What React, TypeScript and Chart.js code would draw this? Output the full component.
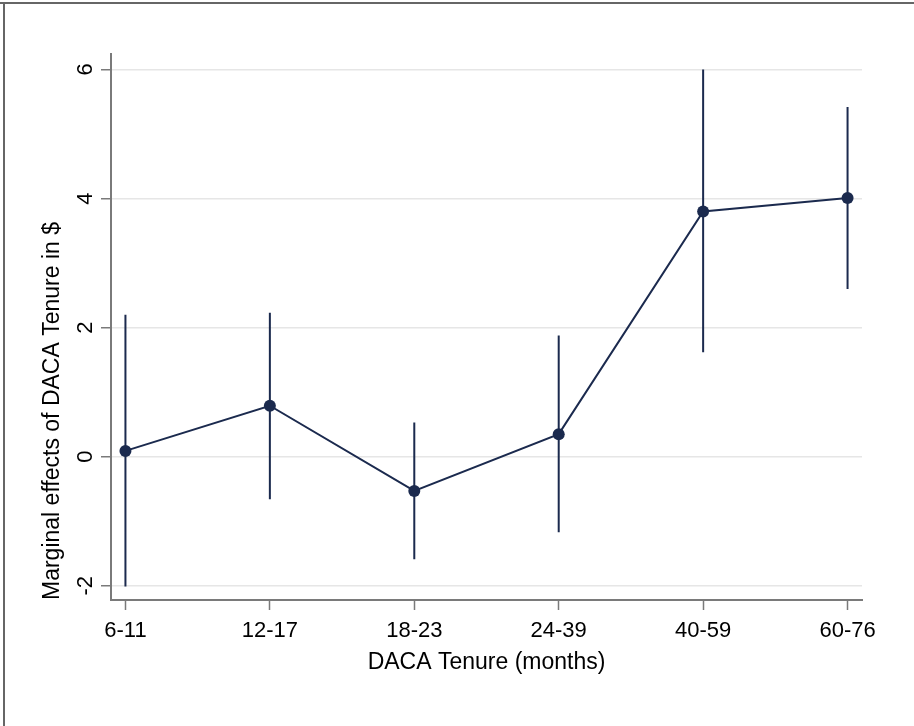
import React, { useEffect, useRef } from 'react';
import { Chart, registerables } from 'chart.js';

Chart.register(...registerables);

const categories = ['6-11', '12-17', '18-23', '24-39', '40-59', '60-76'];
const estimates = [0.09, 0.79, -0.53, 0.35, 3.8, 4.01];
const lowerCI = [-2.01, -0.66, -1.59, -1.17, 1.62, 2.6];
const upperCI = [2.2, 2.23, 0.53, 1.88, 6.0, 5.42];
const yTicks = [-2, 0, 2, 4, 6];
const xTitle = 'DACA Tenure (months)';
const yTitle = 'Marginal effects of DACA Tenure in $';

const NAVY = '#1b2a4e';
const AXIS = '#7a7a7a';
const GRID = '#e6e6e6';
const FONT_FAMILY = 'Arial, "Liberation Sans", sans-serif';

export default function App() {
  const ref = useRef<HTMLCanvasElement>(null);

  useEffect(() => {
    document.body.style.margin = '0';
    const canvas = ref.current;
    if (!canvas) return;

    const pointData = estimates.map((y, i) => ({ x: i, y }));
    const errData: any[] = [];
    categories.forEach((_, i) => {
      errData.push({ x: i, y: lowerCI[i] }, { x: i, y: upperCI[i] }, { x: i, y: null });
    });

    const font = { family: FONT_FAMILY, size: 22, weight: 'normal' as const };
    const titleFont = { family: FONT_FAMILY, size: 23, weight: 'normal' as const };

    const framePlugin = {
      id: 'frame',
      beforeDraw(chart: any) {
        const ctx = chart.ctx;
        ctx.save();
        ctx.fillStyle = '#ffffff';
        ctx.fillRect(0, 0, chart.width, chart.height);
        ctx.restore();
      },
      afterDraw(chart: any) {
        const ctx = chart.ctx;
        ctx.save();
        ctx.fillStyle = '#666666';
        ctx.fillRect(0, 2, chart.width, 2);
        ctx.fillRect(3, 2, 2, chart.height - 2);
        ctx.restore();
      },
    };

    const chart = new Chart(canvas, {
      type: 'scatter',
      data: {
        datasets: [
          {
            data: errData,
            showLine: true,
            spanGaps: false,
            borderColor: NAVY,
            borderWidth: 2,
            pointRadius: 0,
            order: 2,
          },
          {
            data: pointData,
            showLine: true,
            borderColor: NAVY,
            borderWidth: 2,
            pointRadius: 6,
            pointBackgroundColor: NAVY,
            pointBorderColor: NAVY,
            pointBorderWidth: 0,
            order: 1,
          },
        ],
      },
      options: {
        responsive: false,
        animation: false,
        devicePixelRatio: 1,
        layout: { padding: { left: 0, top: 54, right: 52, bottom: 0 } },
        plugins: { legend: { display: false }, tooltip: { enabled: false } },
        scales: {
          x: {
            type: 'linear',
            min: -0.1,
            max: 5.1,
            afterBuildTicks: (s: any) => {
              s.ticks = categories.map((_, i) => ({ value: i }));
            },
            afterFit: (s: any) => {
              s.height = 126;
            },
            ticks: {
              callback: (v: any) => categories[v as number] ?? '',
              font,
              color: '#000',
              padding: 8,
              maxRotation: 0,
              minRotation: 0,
              autoSkip: false,
            },
            grid: {
              drawOnChartArea: false,
              drawTicks: true,
              tickLength: 10,
              tickColor: AXIS,
              tickWidth: 1.5,
            },
            border: { color: AXIS, width: 2 },
            title: {
              display: true,
              text: xTitle,
              font: titleFont,
              color: '#000',
              padding: { top: 0, bottom: 50 },
            },
          },
          y: {
            type: 'linear',
            min: -2.22,
            max: 6.24,
            afterBuildTicks: (s: any) => {
              s.ticks = yTicks.map((v) => ({ value: v }));
            },
            afterFit: (s: any) => {
              s.width = 111;
            },
            ticks: {
              font,
              color: '#000',
              padding: 5,
              minRotation: 90,
              maxRotation: 90,
              crossAlign: 'center',
              callback: (v: any) => String(v),
            },
            grid: {
              color: GRID,
              lineWidth: 1.5,
              drawTicks: true,
              tickLength: 10,
              tickColor: AXIS,
              tickWidth: 1.5,
            },
            border: { color: AXIS, width: 2 },
            title: {
              display: true,
              text: yTitle,
              font: titleFont,
              color: '#000',
              align: 'start',
              padding: { top: 39, bottom: 0 },
            },
          },
        },
      },
      plugins: [framePlugin],
    } as any);

    return () => chart.destroy();
  }, []);

  return (
    <canvas
      ref={ref}
      width={914}
      height={726}
      style={{ display: 'block', width: 914, height: 726 }}
    />
  );
}
